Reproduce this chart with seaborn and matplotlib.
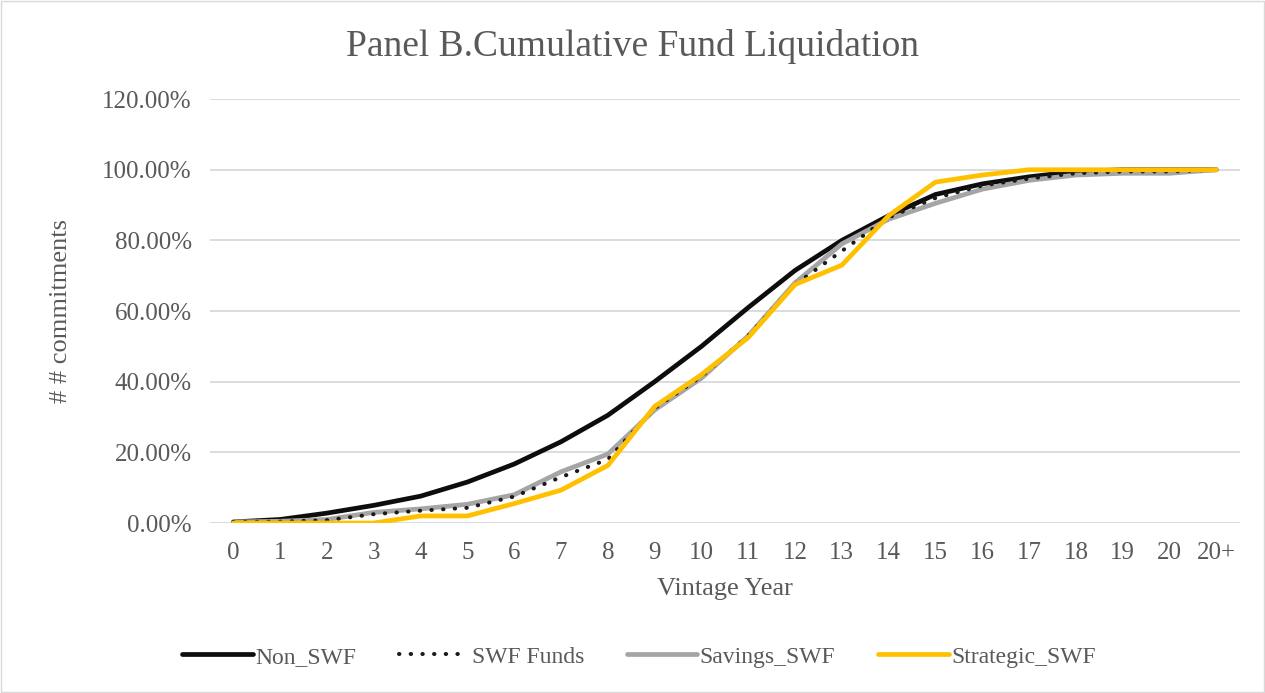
import pandas as pd
import numpy as np
import matplotlib.pyplot as plt
import seaborn as sns
from matplotlib.ticker import FuncFormatter

years = [str(i) for i in range(21)] + ["20+"]

non_swf = [0.3, 1.0, 2.8, 5.0, 7.6, 11.6, 16.7, 23.0, 30.5, 40.0, 50.0, 61.0,
           71.5, 80.0, 87.0, 93.0, 96.0, 98.0, 99.5, 100.0, 100.0, 100.0]
swf_funds = [0.3, 0.4, 0.8, 2.5, 3.5, 4.3, 7.5, 13.0, 18.0, 32.5, 41.5, 53.0,
             67.5, 77.0, 86.5, 92.0, 95.5, 97.5, 99.0, 99.5, 99.5, 100.0]
savings_swf = [0.3, 0.5, 1.0, 3.0, 4.0, 5.3, 8.0, 14.5, 19.5, 32.0, 41.0, 53.0,
               68.0, 79.0, 86.0, 90.5, 94.5, 97.0, 98.5, 99.0, 99.0, 100.0]
strategic_swf = [0.0, 0.0, 0.0, 0.0, 2.0, 2.0, 5.5, 9.3, 16.3, 33.0, 42.0, 52.5,
                 67.5, 73.0, 87.0, 96.5, 98.5, 100.0, 100.0, 100.0, 100.0, 100.0]

series = {
    "Non_SWF": non_swf,
    "SWF Funds": swf_funds,
    "Savings_SWF": savings_swf,
    "Strategic_SWF": strategic_swf,
}

df = pd.DataFrame({"Year": years, **series})
dfLong = pd.melt(df, id_vars=["Year"], var_name="Series", value_name="Pct")

sns.set_style("white")
plt.rcParams["font.family"] = ["Liberation Serif", "DejaVu Serif"]
txt = "#595959"

fig = plt.figure(figsize=(12.65, 6.93), dpi=100)
ax = fig.add_axes([0.166, 0.2453, 0.814, 0.6117])

# dotted SWF line: round dots roughly every 12 px
styles = {
    "Non_SWF": dict(color="#0d0d0d", lw=3.4, ls="-", zorder=3),
    "SWF Funds": dict(color="#1a1a1a", lw=2.9, ls=(0, (0.1, 2.8)), zorder=5),
    "Savings_SWF": dict(color="#a5a5a5", lw=3.4, ls="-", zorder=4),
    "Strategic_SWF": dict(color="#ffc000", lw=3.4, ls="-", zorder=6),
}

for name in series:
    st = styles[name]
    sns.lineplot(data=dfLong[dfLong["Series"] == name], x="Year", y="Pct",
                 ax=ax, label=name, color=st["color"], linewidth=st["lw"],
                 linestyle=st["ls"], zorder=st["zorder"],
                 solid_capstyle="round", dash_capstyle="round")

ax.set_ylim(0, 120)
ax.set_xlim(-0.5, len(years) - 0.5)
ax.set_yticks(np.arange(0, 121, 20))
ax.yaxis.set_major_formatter(FuncFormatter(lambda v, p: f"{v:.2f}%"))
ax.grid(axis="y", color="#d9d9d9", lw=1.3)
ax.set_axisbelow(True)
for s in ax.spines.values():
    s.set_visible(False)
ax.tick_params(axis="both", length=0, labelsize=18, labelcolor=txt)
ax.tick_params(axis="y", pad=13)
ax.tick_params(axis="x", pad=14)

fig.text(0.5, 0.933, "Panel B.Cumulative Fund Liquidation", fontsize=27,
         color=txt, ha="center", va="center")
ax.set_xlabel("Vintage Year", fontsize=19, color=txt, labelpad=10)
ax.set_ylabel("# # commitments", fontsize=19, color=txt, labelpad=22)

handles, labels = ax.get_legend_handles_labels()
ax.get_legend().remove()
fig.legend(handles, labels, loc="center", bbox_to_anchor=(0.505, 0.052), ncol=4,
           frameon=False, fontsize=17, labelcolor=txt, handlelength=3.0,
           columnspacing=1.8, handletextpad=0.1)

fig.patches.append(plt.Rectangle((0.001, 0.001), 0.998, 0.998, transform=fig.transFigure,
                                 fill=False, edgecolor="#d9d9d9", lw=1))

fig.savefig("out.png", dpi=100)
